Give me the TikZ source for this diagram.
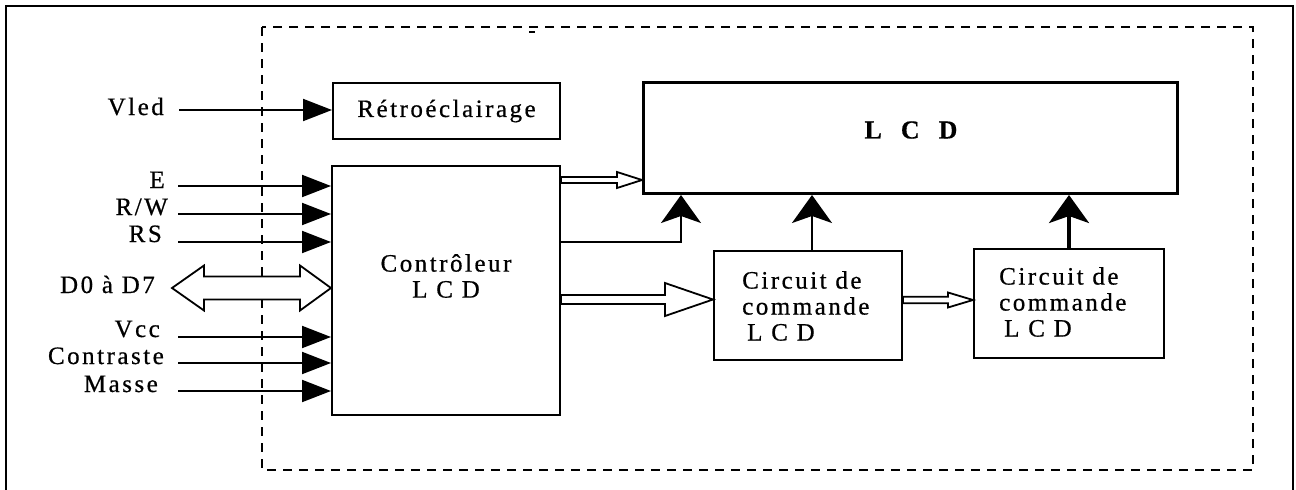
\documentclass[tikz,border=0pt]{standalone}
\usepackage{fontspec}
\setmainfont[LetterSpace=10,FakeBold=0.6]{Liberation Serif}
\usetikzlibrary{arrows.meta,calc}
\newcommand\hollowarr[5]{% start, tip, shaft half, head half, head length
  \draw[hollow] let \p1=(#1), \p2=(#2) in
   (\x1,\y1+#3) -- (\x2-#5,\y1+#3) -- (\x2-#5,\y1+#4) -- (\x2,\y1)
   -- (\x2-#5,\y1-#4) -- (\x2-#5,\y1-#3) -- (\x1,\y1-#3) -- cycle;}
\begin{document}
\begin{tikzpicture}[x=1pt,y=-1pt,
  box/.style={draw, line width=2pt, inner sep=0pt},
  txt/.style={font=\fontsize{25}{26}\selectfont},
  lab/.style={anchor=base east, inner sep=0pt, font=\fontsize{25}{26}\selectfont},
  inarrow/.style={line width=2pt, -{Triangle[length=29pt,width=22pt]}},
  uparrow/.style={line width=2pt, -{Stealth[length=28pt,width=40pt,inset=7pt]}},
  hollow/.style={line width=1.8pt, fill=white, line join=miter}]
\useasboundingbox (0,0) rectangle (1296,490);
% outer frame
\draw[line width=2pt] (6,495) -- (6,6) -- (1293,6) -- (1293,495);
% dashed module outline
\draw[line width=2.5pt, dash pattern=on 9pt off 7pt] (262,27) rectangle (1253,470);
\draw[line width=2.5pt] (529,32) -- (535,32);

% blocks
\node[box, txt, minimum width=227pt, minimum height=56pt, anchor=north west] (ret) at (332,82) {Rétroéclairage};
\node[box, minimum width=228pt, minimum height=249pt, anchor=north west] (ctrl) at (331,165) {};
\node[txt, align=center] (ctrlt) at (446,276) {Contrôleur\\L C D};
\node[draw, line width=3pt, minimum width=534pt, minimum height=111pt, anchor=north west] (lcd) at (642,81) {};
\node[font=\fontsize{26}{26}\selectfont\bfseries] (lcdt) at (911,130) {L\hspace{19pt}C\hspace{19pt}D};
\node[box, minimum width=188pt, minimum height=109pt, anchor=north west] (cc1) at (713,250) {};
\node[box, minimum width=190pt, minimum height=109pt, anchor=north west] (cc2) at (973,248) {};
\node[txt, align=left, anchor=north west, inner sep=0pt] (cc1t) at (742,271) {Circuit de\\commande\\\hspace{5pt}L C D};
\node[txt, align=left, anchor=north west, inner sep=0pt] (cc2t) at (999,267) {Circuit de\\commande\\\hspace{5pt}L C D};

% input labels
\node[lab] (lvled) at (164,115) {Vled};
\node[lab] (lE) at (165,188) {E};
\node[lab] (lRW) at (168,215) {R/W};
\node[lab] (lRS) at (162,242) {RS};
\node[lab] (lD) at (155,293) {D0 à D7};
\node[lab] (lVcc) at (160,337) {Vcc};
\node[lab] (lCon) at (164,364) {Contraste};
\node[lab] (lMas) at (158,392) {Masse};

% input line starts
\coordinate (sV) at (179,110);
\coordinate (sE) at (178,186);
\coordinate (sRW) at (178,214);
\coordinate (sRS) at (178,242);
\coordinate (sVcc) at (178,337);
\coordinate (sCon) at (178,363);
\coordinate (sMas) at (178,391);
\coordinate (dL) at (172,288);

\draw[inarrow] (sV) -- (sV -| ret.west);
\foreach \s in {sE,sRW,sRS,sVcc,sCon,sMas}
  \draw[inarrow] (\s) -- (\s -| ctrl.west);

% data bus double arrow
\draw[hollow] let \p1=(dL), \p2=(dL -| ctrl.west) in
  (\x1,\y1) -- (\x1+32pt,\y1+22.5pt) -- (\x1+32pt,\y1+11.5pt) -- (\x2-31pt,\y1+11.5pt)
  -- (\x2-31pt,\y1+22.5pt) -- (\x2,\y1) -- (\x2-31pt,\y1-22.5pt) -- (\x2-31pt,\y1-11.5pt)
  -- (\x1+32pt,\y1-11.5pt) -- (\x1+32pt,\y1-22.5pt) -- cycle;

% hollow arrows
\coordinate (a1) at (0,180);
\hollowarr{ctrl.east |- a1}{lcd.west |- a1}{3pt}{8pt}{25pt}
\coordinate (a2) at (0,299.5);
\hollowarr{ctrl.east |- a2}{cc1.west |- a2}{4.5pt}{16.5pt}{48pt}
\coordinate (a3) at (0,300);
\hollowarr{cc1.east |- a3}{cc2.west |- a3}{3.3pt}{7.5pt}{25pt}

% up arrows into LCD
\coordinate (fb) at (681,242);
\draw[uparrow] (ctrl.east |- fb) -| (fb |- lcd.south);
\draw[uparrow] ([xshift=4pt]cc1.north) -- ([xshift=4pt]cc1.north |- lcd.south);
\draw[uparrow, line width=3.5pt] (cc2.north) -- (cc2.north |- lcd.south);
\end{tikzpicture}
\end{document}
